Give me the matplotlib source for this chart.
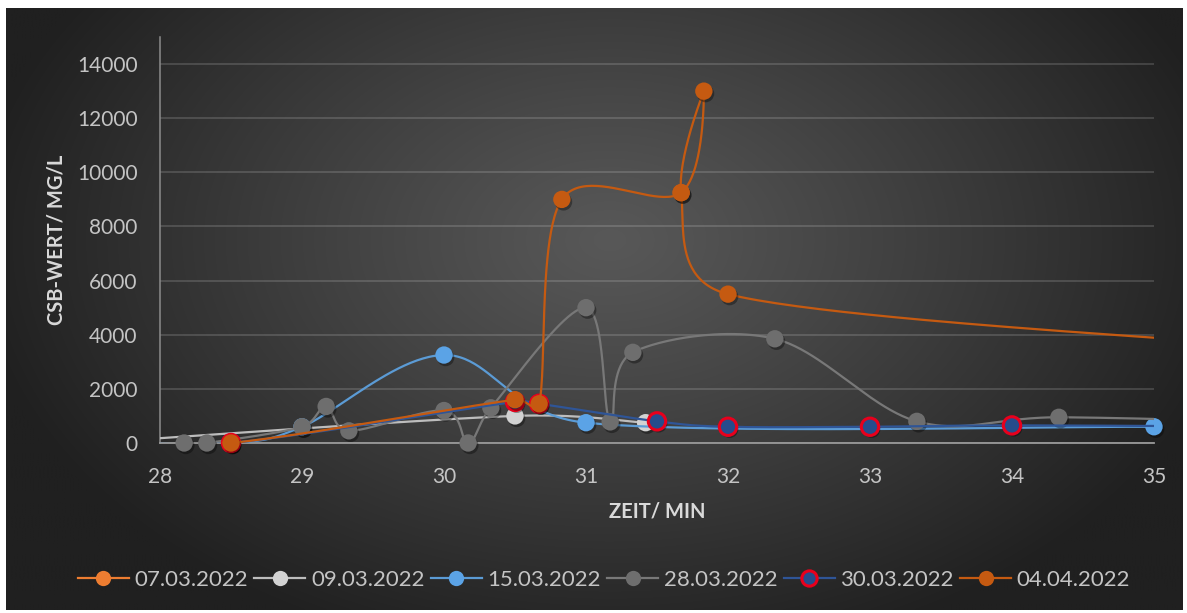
import numpy as np
import matplotlib
matplotlib.use("Agg")
import matplotlib.pyplot as plt
import matplotlib.patheffects as pe

# ---- data -------------------------------------------------------------
series_names = ["07.03.2022", "09.03.2022", "15.03.2022",
                "28.03.2022", "30.03.2022", "04.04.2022"]

t_0703 = []
v_0703 = []

t_0903 = [27.5, 30.5, 31.42]
v_0903 = [0, 1000, 750]

t_1503 = [27.5, 28.5, 29.0, 30.0, 31.0, 35.0]
v_1503 = [0, 0, 600, 3250, 750, 600]

t_2803 = [28.17, 28.33, 29.0, 29.17, 29.33, 30.0, 30.17, 30.33,
          31.0, 31.17, 31.33, 32.33, 33.33, 34.33, 36.0]
v_2803 = [0, 0, 600, 1350, 450, 1200, 0, 1300,
          5000, 780, 3350, 3850, 800, 950, 750]

t_3003 = [27.5, 28.5, 30.5, 30.67, 31.5, 32.0, 33.0, 34.0, 36.0]
v_3003 = [0, 0, 1520, 1450, 800, 600, 600, 650, 600]

t_0404 = [27.5, 28.5, 30.5, 30.67, 30.83, 31.67, 31.83, 31.67, 32.0, 36.0]
v_0404 = [0, 0, 1600, 1450, 9000, 9250, 13000, 9250, 5500, 3500]

x_ticks = [28, 29, 30, 31, 32, 33, 34, 35]
y_ticks = [0, 2000, 4000, 6000, 8000, 10000, 12000, 14000]
x_label = "ZEIT/ MIN"
y_label = "CSB-WERT/ MG/L"

# ---- styles -----------------------------------------------------------
styles = [
    dict(line="#ED7D31", face="#ED7D31", edge="#ED7D31", ew=0.0),
    dict(line="#BDBDBD", face="#D2D2D2", edge="#D2D2D2", ew=0.0),
    dict(line="#5B9BD5", face="#5BA3E6", edge="#5BA3E6", ew=0.0),
    dict(line="#787878", face="#6E6E6E", edge="#6E6E6E", ew=0.0),
    dict(line="#2F5597", face="#264C8C", edge="#E8001C", ew=2.2),
    dict(line="#C55A11", face="#C55A11", edge="#C55A11", ew=0.0),
]
series = [(t_0703, v_0703), (t_0903, v_0903), (t_1503, v_1503),
          (t_2803, v_2803), (t_3003, v_3003), (t_0404, v_0404)]

W, H, DPI = 1187, 613, 100
FONT = "Lato"
TICK_C = "#C4C4C4"

fig = plt.figure(figsize=(W / DPI, H / DPI), dpi=DPI, facecolor="white")

# dark radial-gradient chart background
bx0, by0, bx1, by1 = 6, 8, 1183, 610
bg = fig.add_axes([bx0 / W, 1 - by1 / H, (bx1 - bx0) / W, (by1 - by0) / H], zorder=-10)
gx = np.linspace(bx0, bx1, 600)
gy = np.linspace(by0, by1, 320)
X, Y = np.meshgrid(gx, gy)
d = np.sqrt(((X - 610) / 640) ** 2 + ((Y - 240) / 430) ** 2)
d = np.clip(d, 0, 1) ** 1.1
c_in, c_out = 0x58 / 255, 0x20 / 255
img = c_in + (c_out - c_in) * d
bg.imshow(np.dstack([img, img, img]), extent=[0, 1, 0, 1], aspect="auto",
          origin="upper", interpolation="bilinear")
bg.set_axis_off()

# plot area
left, right, bottom_px, top_px = 160, 1154, 443, 37
ax = fig.add_axes([left / W, 1 - bottom_px / H, (right - left) / W, (bottom_px - top_px) / H])
ax.set_facecolor("none")
ax.set_xlim(28, 35)
ax.set_ylim(0, 15000)
ax.set_xticks(x_ticks)
ax.set_yticks(y_ticks)
ax.set_xticklabels([str(v) for v in x_ticks])
ax.set_yticklabels([str(v) for v in y_ticks])
ax.tick_params(axis="both", length=0, colors=TICK_C, labelsize=15)
ax.tick_params(axis="y", pad=16)
ax.tick_params(axis="x", pad=17)
for lab in ax.get_xticklabels() + ax.get_yticklabels():
    lab.set_family(FONT)
for s in ("top", "right"):
    ax.spines[s].set_visible(False)
ax.spines["left"].set_color("#8C8C8C")
ax.spines["left"].set_linewidth(1.1)
ax.spines["bottom"].set_color("#9A9A9A")
ax.spines["bottom"].set_linewidth(1.3)
ax.grid(axis="y", color="white", alpha=0.16, linewidth=1.3)
ax.set_axisbelow(True)


def _limit(vec, max_len):
    n = np.hypot(*vec)
    return vec if n <= max_len or n == 0 else vec * (max_len / n)


def smooth(ax, xs, ys, n=50):
    """Cubic Bezier smoothing (Catmull-Rom control points) in display space,
    with control arms limited to half of the segment chord."""
    pts = ax.transData.transform(np.column_stack([xs, ys]))
    m = len(pts)
    out = [pts[0]]
    t = np.linspace(0, 1, n)[1:, None]
    for i in range(m - 1):
        p0 = pts[i - 1] if i > 0 else pts[i]
        p1, p2 = pts[i], pts[i + 1]
        p3 = pts[i + 2] if i + 2 < m else pts[i + 1]
        chord = np.hypot(*(p2 - p1))
        c1 = p1 + _limit((p2 - p0) / 6.0, 0.5 * chord)
        c2 = p2 - _limit((p3 - p1) / 6.0, 0.5 * chord)
        seg = ((1 - t) ** 3) * p1 + 3 * ((1 - t) ** 2) * t * c1 \
            + 3 * (1 - t) * (t ** 2) * c2 + (t ** 3) * p2
        out.extend(seg)
    out = np.array(out)
    data = ax.transData.inverted().transform(out)
    return data[:, 0], data[:, 1]


shadow = [pe.SimplePatchShadow(offset=(1.2, -1.8), shadow_rgbFace="black", alpha=0.35), pe.Normal()]
handles = []
for k, ((ts, vs), st, name) in enumerate(zip(series, styles, series_names)):
    z = 3 + k
    if len(ts) > 1:
        sx, sy = smooth(ax, ts, vs)
        ax.plot(sx, sy, color=st["line"], lw=1.6, zorder=z, solid_capstyle="round")
    ts_a, vs_a = np.asarray(ts, float), np.asarray(vs, float)
    inside = (ts_a >= 28) & (ts_a <= 35)
    ax.plot(ts_a[inside], vs_a[inside], linestyle="none", marker="o", ms=12.5,
            mfc=st["face"], mec=st["edge"], mew=st["ew"], zorder=z + 0.5,
            clip_on=False, path_effects=shadow)
    h, = ax.plot([], [], color=st["line"], lw=1.6, marker="o", ms=11,
                 mfc=st["face"], mec=st["edge"], mew=st["ew"], label=name)
    handles.append(h)

fig.text(57 / W, 1 - 240 / H, y_label, rotation=90, ha="center", va="center",
         color="#D9D9D9", fontsize=14.5, fontweight="bold", family=FONT)
fig.text(657 / W, 1 - 512 / H, x_label, ha="center", va="center",
         color="#D9D9D9", fontsize=14.5, fontweight="bold", family=FONT)

leg = fig.legend(handles=handles, loc="center", bbox_to_anchor=(604 / W, 1 - 580 / H),
                 ncol=6, frameon=False, handlelength=2.3,
                 handletextpad=0.25, columnspacing=0.28, numpoints=1,
                 prop=dict(family=FONT, size=16))
for txt in leg.get_texts():
    txt.set_color(TICK_C)

fig.savefig("out.png", dpi=DPI, facecolor="white")
